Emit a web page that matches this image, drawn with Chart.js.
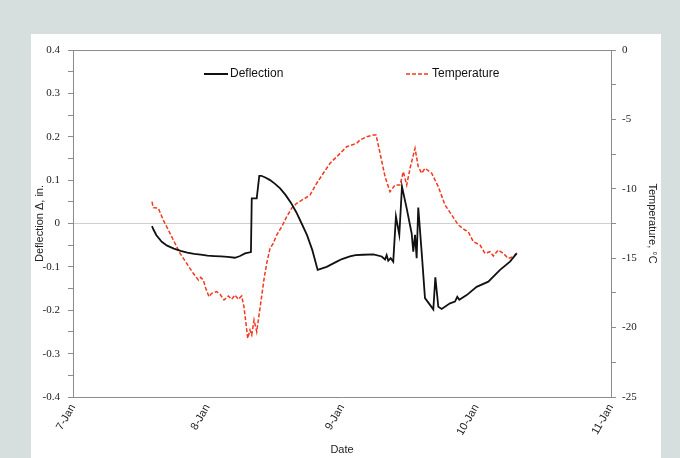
<!DOCTYPE html>
<html>
<head>
<meta charset="utf-8">
<script src="https://cdn.jsdelivr.net/npm/chart.js@4/dist/chart.umd.min.js"></script>
<style>
  html, body { margin: 0; padding: 0; background: #d6dfdd; }
  #wrap { position: relative; width: 680px; height: 458px; overflow: hidden; }
  #panel { position: absolute; left: 31px; top: 34px; width: 630px; height: 424px; background: #ffffff; }
  #c { position: absolute; left: 0; top: 0; }
</style>
</head>
<body>
<div id="wrap">
  <div id="panel"></div>
  <canvas id="c" width="680" height="458"></canvas>
</div>
<script>
// ---- data (x in days of January) ----
const dateLabels = ['7-Jan', '8-Jan', '9-Jan', '10-Jan', '11-Jan'];
const deflectionTickLabels = ['-0.4', '-0.3', '-0.2', '-0.1', '0', '0.1', '0.2', '0.3', '0.4'];
const temperatureTickLabels = ['-25', '-20', '-15', '-10', '-5', '0'];

const deflectionDays = [7.587, 7.600, 7.620, 7.660, 7.700, 7.750, 7.800, 7.850, 7.900, 7.950, 8.000, 8.050, 8.100, 8.150,
  8.204, 8.242, 8.279, 8.323, 8.329, 8.366, 8.385,
  8.400, 8.430, 8.465, 8.500, 8.540, 8.580, 8.620, 8.660, 8.700, 8.740, 8.780, 8.819,
  8.886, 8.961, 9.000, 9.059, 9.100, 9.158, 9.233, 9.295, 9.320, 9.332,
  9.344, 9.362, 9.381, 9.401, 9.426, 9.446, 9.481, 9.518, 9.530, 9.543, 9.555, 9.567, 9.593, 9.617, 9.679, 9.694,
  9.716, 9.741, 9.803, 9.840, 9.857, 9.872, 9.927, 10.001, 10.088, 10.175, 10.249, 10.299];
const deflectionValues = [-0.006, -0.015, -0.027, -0.042, -0.051, -0.058, -0.063, -0.067, -0.070, -0.072, -0.074, -0.075, -0.076, -0.077,
  -0.079, -0.075, -0.069, -0.066, 0.058, 0.058, 0.110,
  0.110, 0.106, 0.100, 0.092, 0.081, 0.066, 0.048, 0.026, 0.000, -0.027, -0.062, -0.107,
  -0.100, -0.088, -0.082, -0.076, -0.073, -0.072, -0.071, -0.076, -0.083, -0.073,
  -0.086, -0.080, -0.088, 0.016, -0.026, 0.085, 0.035, -0.023, -0.065, -0.026, -0.080, 0.037, -0.069, -0.172, -0.198, -0.124,
  -0.192, -0.197, -0.184, -0.180, -0.169, -0.176, -0.165, -0.146, -0.134, -0.107, -0.088, -0.069];

const temperatureDays = [7.587, 7.597, 7.634, 7.671, 7.709, 7.746, 7.796, 7.845, 7.894, 7.932, 7.949, 7.969, 7.987, 8.011,
  8.031, 8.068, 8.093, 8.123, 8.155, 8.180, 8.204, 8.229, 8.254, 8.271, 8.286, 8.299, 8.316, 8.329, 8.346, 8.366,
  8.385, 8.420, 8.440, 8.465, 8.489, 8.514, 8.552, 8.589, 8.626, 8.663, 8.725, 8.762, 8.812, 8.861, 8.911, 8.961,
  9.035, 9.109, 9.134, 9.184, 9.233, 9.253, 9.283, 9.320, 9.357, 9.394, 9.431, 9.456, 9.481, 9.506, 9.543, 9.567,
  9.593, 9.617, 9.667, 9.716, 9.766, 9.816, 9.865, 9.914, 9.939, 9.976, 10.026, 10.063, 10.100, 10.125, 10.162,
  10.199, 10.236, 10.273, 10.303];
const temperatureValues = [-10.93, -11.36, -11.40, -12.25, -12.97, -13.69, -14.65, -15.37, -16.09, -16.57, -16.38, -16.57, -17.17, -17.77,
  -17.53, -17.41, -17.60, -18.01, -17.72, -17.96, -17.65, -17.96, -17.72, -18.49, -19.69, -20.77, -20.17, -20.53, -19.45, -20.30,
  -18.97, -16.52, -15.37, -14.29, -13.93, -13.33, -12.73, -12.01, -11.40, -11.04, -10.68, -10.45, -9.60, -8.88, -8.16, -7.69,
  -6.97, -6.72, -6.48, -6.25, -6.12, -6.12, -7.44, -9.13, -10.21, -9.73, -9.73, -8.77, -9.73, -8.52, -7.08, -8.41,
  -8.88, -8.52, -8.88, -9.85, -11.17, -11.89, -12.61, -12.97, -13.09, -13.81, -14.05, -14.65, -14.53, -14.84, -14.41,
  -14.65, -15.01, -14.89, -14.60];

const seriesNames = ['Deflection', 'Temperature'];
const seriesColors = ['#111111', '#f2381f'];

// ---- build chart ----
const toXY = (xs, ys) => xs.map((x, i) => ({ x: x, y: ys[i] }));

const boxPlugin = {
  id: 'boxTop',
  afterDraw(chart) {
    const { ctx, chartArea } = chart;
    ctx.save();
    ctx.strokeStyle = '#8c8c8c';
    ctx.lineWidth = 1;
    ctx.beginPath();
    ctx.moveTo(chartArea.left, chartArea.top + 0.5);
    ctx.lineTo(chartArea.right, chartArea.top + 0.5);
    ctx.stroke();
    // legend
    const items = [
      { x: 204, color: seriesColors[0], dash: [], width: 2, text: seriesNames[0] },
      { x: 406, color: seriesColors[1], dash: [4, 2], width: 1.5, text: seriesNames[1] }
    ];
    const ly = 74;
    ctx.font = '12px "Liberation Sans", Arial, sans-serif';
    ctx.textBaseline = 'middle';
    ctx.textAlign = 'left';
    items.forEach(it => {
      ctx.strokeStyle = it.color;
      ctx.lineWidth = it.width;
      ctx.setLineDash(it.dash);
      ctx.beginPath();
      ctx.moveTo(it.x, ly);
      ctx.lineTo(it.x + 24, ly);
      ctx.stroke();
      ctx.setLineDash([]);
      ctx.fillStyle = '#111';
      ctx.fillText(it.text, it.x + 26, ly);
    });
    ctx.restore();
  }
};

new Chart(document.getElementById('c'), {
  type: 'line',
  data: {
    datasets: [
      {
        label: seriesNames[0],
        data: toXY(deflectionDays, deflectionValues),
        borderColor: seriesColors[0],
        borderWidth: 1.8,
        pointRadius: 0,
        tension: 0,
        yAxisID: 'y'
      },
      {
        label: seriesNames[1],
        data: toXY(temperatureDays, temperatureValues),
        borderColor: seriesColors[1],
        borderWidth: 1.5,
        borderDash: [4, 2],
        pointRadius: 0,
        tension: 0,
        yAxisID: 'y2'
      }
    ]
  },
  options: {
    responsive: false,
    animation: false,
    devicePixelRatio: 1,
    layout: { padding: { left: 31, right: 19, top: 50, bottom: 0 } },
    plugins: { legend: { display: false }, tooltip: { enabled: false } },
    scales: {
      x: {
        type: 'linear',
        min: 7, max: 11,
        afterFit: s => { s.height = 61; },
        border: { display: true, color: '#8c8c8c', width: 1 },
        grid: { drawOnChartArea: false, drawTicks: false },
        ticks: {
          stepSize: 1,
          autoSkip: false,
          minRotation: 60, maxRotation: 60,
          padding: 5,
          color: '#222',
          font: { family: '"Liberation Sans", Arial, sans-serif', size: 11 },
          callback: v => dateLabels[Math.round(v) - 7]
        },
        title: {
          display: true, text: 'Date', color: '#222',
          padding: { top: 0, bottom: 1 },
          font: { family: '"Liberation Sans", Arial, sans-serif', size: 11 }
        }
      },
      y: {
        position: 'left',
        min: -0.4, max: 0.4,
        afterFit: s => { s.width = 42; },
        border: { display: true, color: '#8c8c8c', width: 1 },
        grid: {
          drawOnChartArea: true,
          tickLength: 5,
          tickColor: '#8c8c8c',
          color: ctx => (ctx.tick && Math.abs(ctx.tick.value) < 1e-9) ? '#cfcfcf' : 'rgba(0,0,0,0)',
          lineWidth: 1
        },
        ticks: {
          stepSize: 0.05,
          autoSkip: false,
          padding: 8,
          color: '#222',
          font: { family: '"Liberation Serif", "Times New Roman", serif', size: 11 },
          callback: v => {
            const k = Math.round(v * 100);
            return (k % 10 === 0) ? deflectionTickLabels[k / 10 + 4] : '';
          }
        },
        title: {
          display: true, text: 'Deflection Δ, in.', color: '#222',
          padding: { top: 2, bottom: 2 },
          font: { family: '"Liberation Sans", Arial, sans-serif', size: 11 }
        }
      },
      y2: {
        position: 'right',
        min: -25, max: 0,
        afterFit: s => { s.width = 50; },
        border: { display: true, color: '#8c8c8c', width: 1 },
        grid: { drawOnChartArea: false, tickLength: 5, tickColor: '#8c8c8c' },
        ticks: {
          stepSize: 2.5,
          autoSkip: false,
          padding: 6,
          color: '#222',
          font: { family: '"Liberation Serif", "Times New Roman", serif', size: 11 },
          callback: v => {
            const k = Math.round(v * 10);
            return (k % 50 === 0) ? temperatureTickLabels[k / 50 + 5] : '';
          }
        },
        title: {
          display: true, text: 'Temperature, °C', color: '#222',
          padding: { top: 2, bottom: 2 },
          font: { family: '"Liberation Sans", Arial, sans-serif', size: 11 }
        }
      }
    }
  },
  plugins: [boxPlugin]
});
</script>
</body>
</html>
